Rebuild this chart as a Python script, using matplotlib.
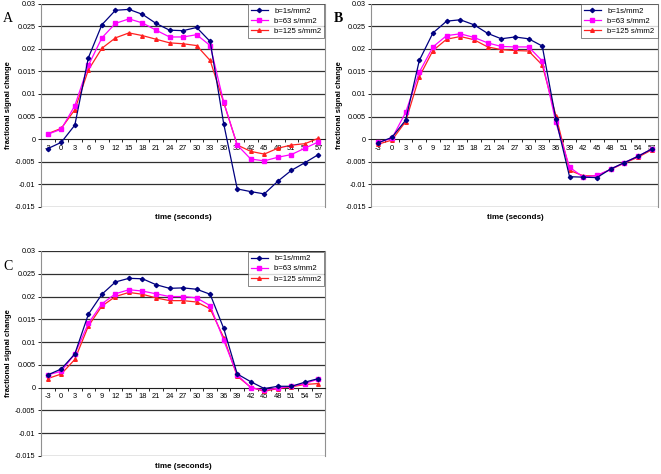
import numpy as np
import matplotlib
matplotlib.use('Agg')
import matplotlib.pyplot as plt

plt.rcParams['font.family'] = ['Liberation Sans', 'DejaVu Sans']

# time points (seconds)
t = [-3, 0, 3, 6, 9, 12, 15, 18, 21, 24, 27, 30, 33, 36, 39, 42, 45, 48, 51, 54, 57]

# panel A
a_b1 = [-0.0021, -0.0007, 0.0031, 0.0180, 0.0253, 0.0285, 0.0287, 0.0276, 0.0256, 0.0241, 0.0240,
        0.0247, 0.0216, 0.0034, -0.0110, -0.0116, -0.0121, -0.0093, -0.0069, -0.0052, -0.0034]
a_b63 = [0.0011, 0.0022, 0.0074, 0.0163, 0.0224, 0.0256, 0.0266, 0.0257, 0.0241, 0.0226, 0.0226,
         0.0231, 0.0207, 0.0082, -0.0013, -0.0044, -0.0048, -0.0040, -0.0034, -0.0020, -0.0006]
a_b125 = [0.0012, 0.0024, 0.0065, 0.0153, 0.0201, 0.0224, 0.0235, 0.0229, 0.0221, 0.0213, 0.0211,
          0.0207, 0.0174, 0.0081, -0.0013, -0.0027, -0.0033, -0.0020, -0.0013, -0.0010, 0.0002]

# panel B
b_b1 = [-0.0008, 0.0004, 0.0042, 0.0174, 0.0235, 0.0261, 0.0264, 0.0253, 0.0234, 0.0222, 0.0226,
        0.0222, 0.0206, 0.0044, -0.0083, -0.0084, -0.0085, -0.0066, -0.0052, -0.0038, -0.0022]
b_b63 = [-0.0007, 0.0002, 0.0059, 0.0148, 0.0204, 0.0229, 0.0233, 0.0225, 0.0213, 0.0205, 0.0204,
         0.0204, 0.0173, 0.0037, -0.0062, -0.0084, -0.0080, -0.0067, -0.0052, -0.0038, -0.0022]
b_b125 = [-0.0011, -0.0002, 0.0039, 0.0138, 0.0196, 0.0221, 0.0227, 0.0220, 0.0204, 0.0198, 0.0196,
          0.0195, 0.0164, 0.0052, -0.0069, -0.0081, -0.0081, -0.0067, -0.0053, -0.0040, -0.0024]

# panel C
c_b1 = [0.0028, 0.0041, 0.0074, 0.0161, 0.0205, 0.0232, 0.0240, 0.0239, 0.0226, 0.0218, 0.0219,
        0.0216, 0.0205, 0.0130, 0.0030, 0.0013, -0.0002, 0.0003, 0.0003, 0.0012, 0.0020]
c_b63 = [0.0028, 0.0036, 0.0074, 0.0141, 0.0184, 0.0206, 0.0215, 0.0212, 0.0206, 0.0200, 0.0200,
         0.0197, 0.0180, 0.0104, 0.0028, 0.0000, -0.0006, -0.0001, 0.0003, 0.0009, 0.0019]
c_b125 = [0.0020, 0.0030, 0.0062, 0.0135, 0.0179, 0.0200, 0.0209, 0.0205, 0.0197, 0.0191, 0.0191,
          0.0188, 0.0173, 0.0110, 0.0025, 0.0001, -0.0008, -0.0002, 0.0002, 0.0007, 0.0009]

labels = ['b=1s/mm2', 'b=63 s/mm2', 'b=125 s/mm2']
yticks = [-0.015, -0.01, -0.005, 0, 0.005, 0.01, 0.015, 0.02, 0.025, 0.03]
ytick_labels = ['-0.015', '-0.01', '-0.005', '0', '0.005', '0.01', '0.015', '0.02', '0.025', '0.03']

fig = plt.figure(figsize=(6.61, 4.74), dpi=100)


def panel(rect, letter, s1, s63, s125):
    ax = fig.add_axes(rect)
    x = np.arange(len(t))
    ax.plot(x, s1, color='#000080', marker='D', ms=2.2, lw=0.9, label=labels[0], zorder=5)
    ax.plot(x, s63, color='#ff00ff', marker='s', ms=2.6, lw=0.9, label=labels[1], zorder=4)
    ax.plot(x, s125, color='#ff2020', marker='^', ms=2.6, lw=0.9, label=labels[2], zorder=3)
    ax.set_xlim(-0.5, len(t) - 0.5)
    ax.set_ylim(-0.015, 0.03)
    ax.set_yticks(yticks)
    ax.set_yticklabels(ytick_labels, fontsize=5.2)
    for y in yticks:
        if y != 0:
            ax.axhline(y, color='#303030', lw=0.9, zorder=1)
    ax.spines['bottom'].set_position(('data', 0))
    ax.spines['top'].set_visible(False)
    ax.spines['right'].set_color('#909090')
    ax.spines['left'].set_color('#909090')
    ax.spines['bottom'].set_color('#202020')
    ax.set_xticks(x)
    ax.set_xticklabels([str(v) for v in t], fontsize=5.4)
    ax.set_xticks(x[:-1] + 0.5, minor=True)
    ax.tick_params(axis='x', which='major', length=0, pad=4)
    ax.tick_params(axis='x', which='minor', length=2.5, width=0.6, direction='out')
    ax.tick_params(axis='y', length=2.5, width=0.6, pad=1.5)
    ax.set_ylabel('fractional signal change', fontsize=5.5, fontweight='bold', labelpad=2)
    ax.text(0.5, -0.035, 'time (seconds)', transform=ax.transAxes, ha='center', va='top',
            fontsize=5.8, fontweight='bold')
    leg = ax.legend(loc='upper right', fontsize=5.6, frameon=True, fancybox=False,
                    borderaxespad=0.1, handlelength=2.2, labelspacing=0.35, borderpad=0.4)
    leg.get_frame().set_edgecolor('#505050')
    leg.get_frame().set_linewidth(0.6)
    fig.text(rect[0] - 0.057, rect[1] + rect[3] - 0.04, letter, fontsize=10,
             family=['Liberation Serif', 'DejaVu Serif'], fontweight='bold' if letter == 'B' else 'normal')
    return ax


panel([0.062, 0.5633, 0.430, 0.4293], 'A', a_b1, a_b63, a_b125)
panel([0.562, 0.5633, 0.434, 0.4293], 'B', b_b1, b_b63, b_b125)
panel([0.062, 0.038, 0.430, 0.4325], 'C', c_b1, c_b63, c_b125)

fig.savefig('out.png', dpi=100)
